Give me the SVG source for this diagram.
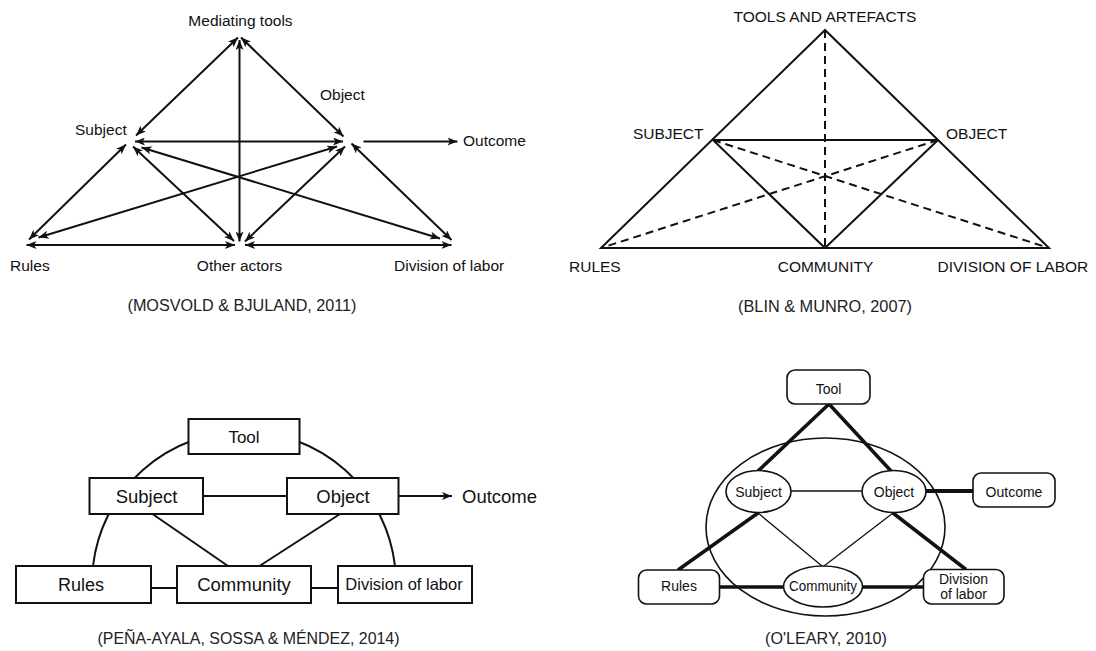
<svg xmlns="http://www.w3.org/2000/svg" width="1096" height="651" viewBox="0 0 1096 651">
<style>
text{font-family:"Liberation Sans",Arial,sans-serif;fill:#111}
.cap{font-family:"Liberation Sans Narrow","Liberation Sans",Arial,sans-serif;font-size:16px;fill:#222}
.t1{font-size:15.5px}
.t3{font-size:18.5px}
.t4{font-size:14px}
.ln{stroke:#111;stroke-width:2;fill:none}
.dash{stroke:#111;stroke-width:2;fill:none;stroke-dasharray:8 5}
.box{fill:#fff;stroke:#111;stroke-width:2}
.rbox{fill:#fff;stroke:#111;stroke-width:1.6}
.thick{stroke:#111;stroke-width:3.5;fill:none}
.thin{stroke:#111;stroke-width:1.3;fill:none}
</style>
<defs>
<marker id="ah" viewBox="0 0 10 8" refX="10" refY="4" markerWidth="10" markerHeight="8" markerUnits="userSpaceOnUse" orient="auto-start-reverse">
<path d="M0,0 L10,4 L0,8 L2.5,4 z" fill="#111"/>
</marker>
</defs>
<rect width="1096" height="651" fill="#fff"/>

<!-- Diagram 1: Mosvold & Bjuland -->
<g id="d1">
<g id="d1-connectors" class="ln">
<line x1="238" y1="37.5" x2="136" y2="135.5" marker-start="url(#ah)" marker-end="url(#ah)"/>
<line x1="241" y1="37.5" x2="343.5" y2="136.5" marker-start="url(#ah)" marker-end="url(#ah)"/>
<line x1="239.5" y1="40" x2="239.5" y2="241.5" marker-start="url(#ah)" marker-end="url(#ah)"/>
<line x1="135" y1="141.5" x2="343" y2="141.5" marker-start="url(#ah)" marker-end="url(#ah)"/>
<line x1="126" y1="144.5" x2="29" y2="239.5" marker-start="url(#ah)" marker-end="url(#ah)"/>
<line x1="133" y1="146.5" x2="234" y2="241" marker-start="url(#ah)" marker-end="url(#ah)"/>
<line x1="141.5" y1="147.5" x2="440" y2="238.5" marker-start="url(#ah)" marker-end="url(#ah)"/>
<line x1="337" y1="146.5" x2="38.5" y2="237.5" marker-start="url(#ah)" marker-end="url(#ah)"/>
<line x1="345" y1="146.5" x2="245" y2="241.5" marker-start="url(#ah)" marker-end="url(#ah)"/>
<line x1="351.5" y1="143.5" x2="451.5" y2="240" marker-start="url(#ah)" marker-end="url(#ah)"/>
<line x1="26.5" y1="245" x2="235" y2="245" marker-start="url(#ah)" marker-end="url(#ah)"/>
<line x1="245" y1="245" x2="451.5" y2="245" marker-start="url(#ah)" marker-end="url(#ah)"/>
<line x1="363.5" y1="141.5" x2="457.5" y2="141.5" marker-end="url(#ah)"/>
</g>
<g id="d1-tools"><text class="t1" x="240.5" y="26" text-anchor="middle">Mediating tools</text></g>
<g id="d1-object"><text class="t1" x="320" y="100">Object</text></g>
<g id="d1-subject"><text class="t1" x="75" y="135">Subject</text></g>
<g id="d1-outcome"><text class="t1" x="463" y="146">Outcome</text></g>
<g id="d1-rules"><text class="t1" x="10" y="271">Rules</text></g>
<g id="d1-others"><text class="t1" x="239.5" y="271" text-anchor="middle">Other actors</text></g>
<g id="d1-division"><text class="t1" x="394" y="271">Division of labor</text></g>
<text class="cap" x="242" y="311" text-anchor="middle" textLength="229" lengthAdjust="spacingAndGlyphs">(MOSVOLD &amp; BJULAND, 2011)</text>
</g>

<!-- Diagram 2: Blin & Munro -->
<g id="d2">
<g id="d2-connectors">
<polygon class="ln" points="825,30 601,248 1049,248"/>
<line class="ln" x1="713" y1="140" x2="938" y2="140"/>
<line class="ln" x1="713" y1="140" x2="825" y2="248"/>
<line class="ln" x1="938" y1="140" x2="825" y2="248"/>
<line class="dash" x1="825" y1="30" x2="825" y2="248"/>
<line class="dash" x1="713" y1="140" x2="1049" y2="248"/>
<line class="dash" x1="938" y1="140" x2="601" y2="248"/>
</g>
<g id="d2-tools"><text class="t1" x="825" y="22" text-anchor="middle">TOOLS AND ARTEFACTS</text></g>
<g id="d2-subject"><text class="t1" x="703.5" y="139" text-anchor="end">SUBJECT</text></g>
<g id="d2-object"><text class="t1" x="946" y="139">OBJECT</text></g>
<g id="d2-rules"><text class="t1" x="569" y="272">RULES</text></g>
<g id="d2-community"><text class="t1" x="825.5" y="272" text-anchor="middle">COMMUNITY</text></g>
<g id="d2-division"><text class="t1" x="937.5" y="272">DIVISION OF LABOR</text></g>
<text class="cap" x="825" y="312" text-anchor="middle" textLength="174" lengthAdjust="spacingAndGlyphs">(BLIN &amp; MUNRO, 2007)</text>
</g>

<!-- Diagram 3: Pena-Ayala, Sossa & Mendez -->
<g id="d3">
<g id="d3-connectors" class="ln">
<path d="M93,566 A152,152 0 0 1 395,566"/>
<line x1="203.5" y1="496" x2="287" y2="496"/>
<line x1="152.5" y1="514" x2="228" y2="566"/>
<line x1="340" y1="514" x2="259.5" y2="566"/>
<line x1="151" y1="588" x2="177" y2="588"/>
<line x1="311" y1="588" x2="338" y2="588"/>
<line x1="398.5" y1="496" x2="452" y2="496" marker-end="url(#ah)"/>
</g>
<g id="d3-tool"><rect class="box" x="188.5" y="419" width="111" height="35"/><text class="t3" x="244" y="443" text-anchor="middle" style="font-size:17px">Tool</text></g>
<g id="d3-subject"><rect class="box" x="89.5" y="478" width="113.5" height="36"/><text class="t3" x="146.5" y="503" text-anchor="middle">Subject</text></g>
<g id="d3-object"><rect class="box" x="287" y="478" width="111.5" height="36"/><text class="t3" x="343" y="503" text-anchor="middle">Object</text></g>
<g id="d3-rules"><rect class="box" x="16" y="566" width="135" height="37"/><text class="t3" x="81" y="591" text-anchor="middle" style="font-size:18px">Rules</text></g>
<g id="d3-community"><rect class="box" x="177" y="566" width="134" height="37"/><text class="t3" x="244" y="591" text-anchor="middle">Community</text></g>
<g id="d3-division"><rect class="box" x="338" y="566" width="134" height="37"/><text class="t3" x="404" y="590" text-anchor="middle" style="font-size:16.5px">Division of labor</text></g>
<g id="d3-outcome"><text class="t3" x="462" y="503">Outcome</text></g>
<text class="cap" x="248.5" y="644" text-anchor="middle" textLength="302" lengthAdjust="spacingAndGlyphs">(PEÑA-AYALA, SOSSA &amp; MÉNDEZ, 2014)</text>
</g>

<!-- Diagram 4: O'Leary -->
<g id="d4">
<g id="d4-frame"><ellipse cx="825.5" cy="527" rx="119.5" ry="89" fill="none" stroke="#111" stroke-width="1.6"/></g>
<g id="d4-connectors">
<line class="thick" x1="829" y1="404" x2="758" y2="471"/>
<line class="thick" x1="829" y1="404" x2="891" y2="471"/>
<line class="thin" x1="791" y1="491" x2="862" y2="491"/>
<line class="thick" x1="926" y1="491" x2="973" y2="491" style="stroke-width:4"/>
<line class="thick" x1="758" y1="513" x2="678" y2="570"/>
<line class="thick" x1="893" y1="513" x2="966" y2="569.5"/>
<line class="thin" x1="758" y1="513" x2="822" y2="566"/>
<line class="thin" x1="893" y1="513" x2="824" y2="566"/>
<line class="thick" x1="719" y1="587" x2="784" y2="587"/>
<line class="thick" x1="862" y1="587" x2="923.5" y2="587"/>
</g>
<g id="d4-tool"><rect class="rbox" x="787" y="370" width="83" height="34" rx="8"/><text class="t4" x="828.5" y="394" text-anchor="middle">Tool</text></g>
<g id="d4-subject"><ellipse class="rbox" cx="758.5" cy="491.5" rx="32.5" ry="21"/><text class="t4" x="758.5" y="497" text-anchor="middle">Subject</text></g>
<g id="d4-object"><ellipse class="rbox" cx="894" cy="491.5" rx="32" ry="21"/><text class="t4" x="894" y="497" text-anchor="middle">Object</text></g>
<g id="d4-outcome"><rect class="rbox" x="973" y="473" width="82" height="34" rx="8"/><text class="t4" x="1014" y="497" text-anchor="middle">Outcome</text></g>
<g id="d4-rules"><rect class="rbox" x="638.5" y="570" width="81" height="34" rx="8"/><text class="t4" x="679" y="591" text-anchor="middle">Rules</text></g>
<g id="d4-community"><ellipse class="rbox" cx="823" cy="586.5" rx="39.5" ry="20.5"/><text class="t4" x="823" y="591" text-anchor="middle" textLength="68" lengthAdjust="spacingAndGlyphs">Community</text></g>
<g id="d4-division"><rect class="rbox" x="923.5" y="569.5" width="80.5" height="34.5" rx="8"/><text class="t4" x="963.5" y="584" text-anchor="middle">Division</text><text class="t4" x="963.5" y="599" text-anchor="middle">of labor</text></g>
<text class="cap" x="826" y="644" text-anchor="middle" textLength="122" lengthAdjust="spacingAndGlyphs">(O'LEARY, 2010)</text>
</g>
</svg>
